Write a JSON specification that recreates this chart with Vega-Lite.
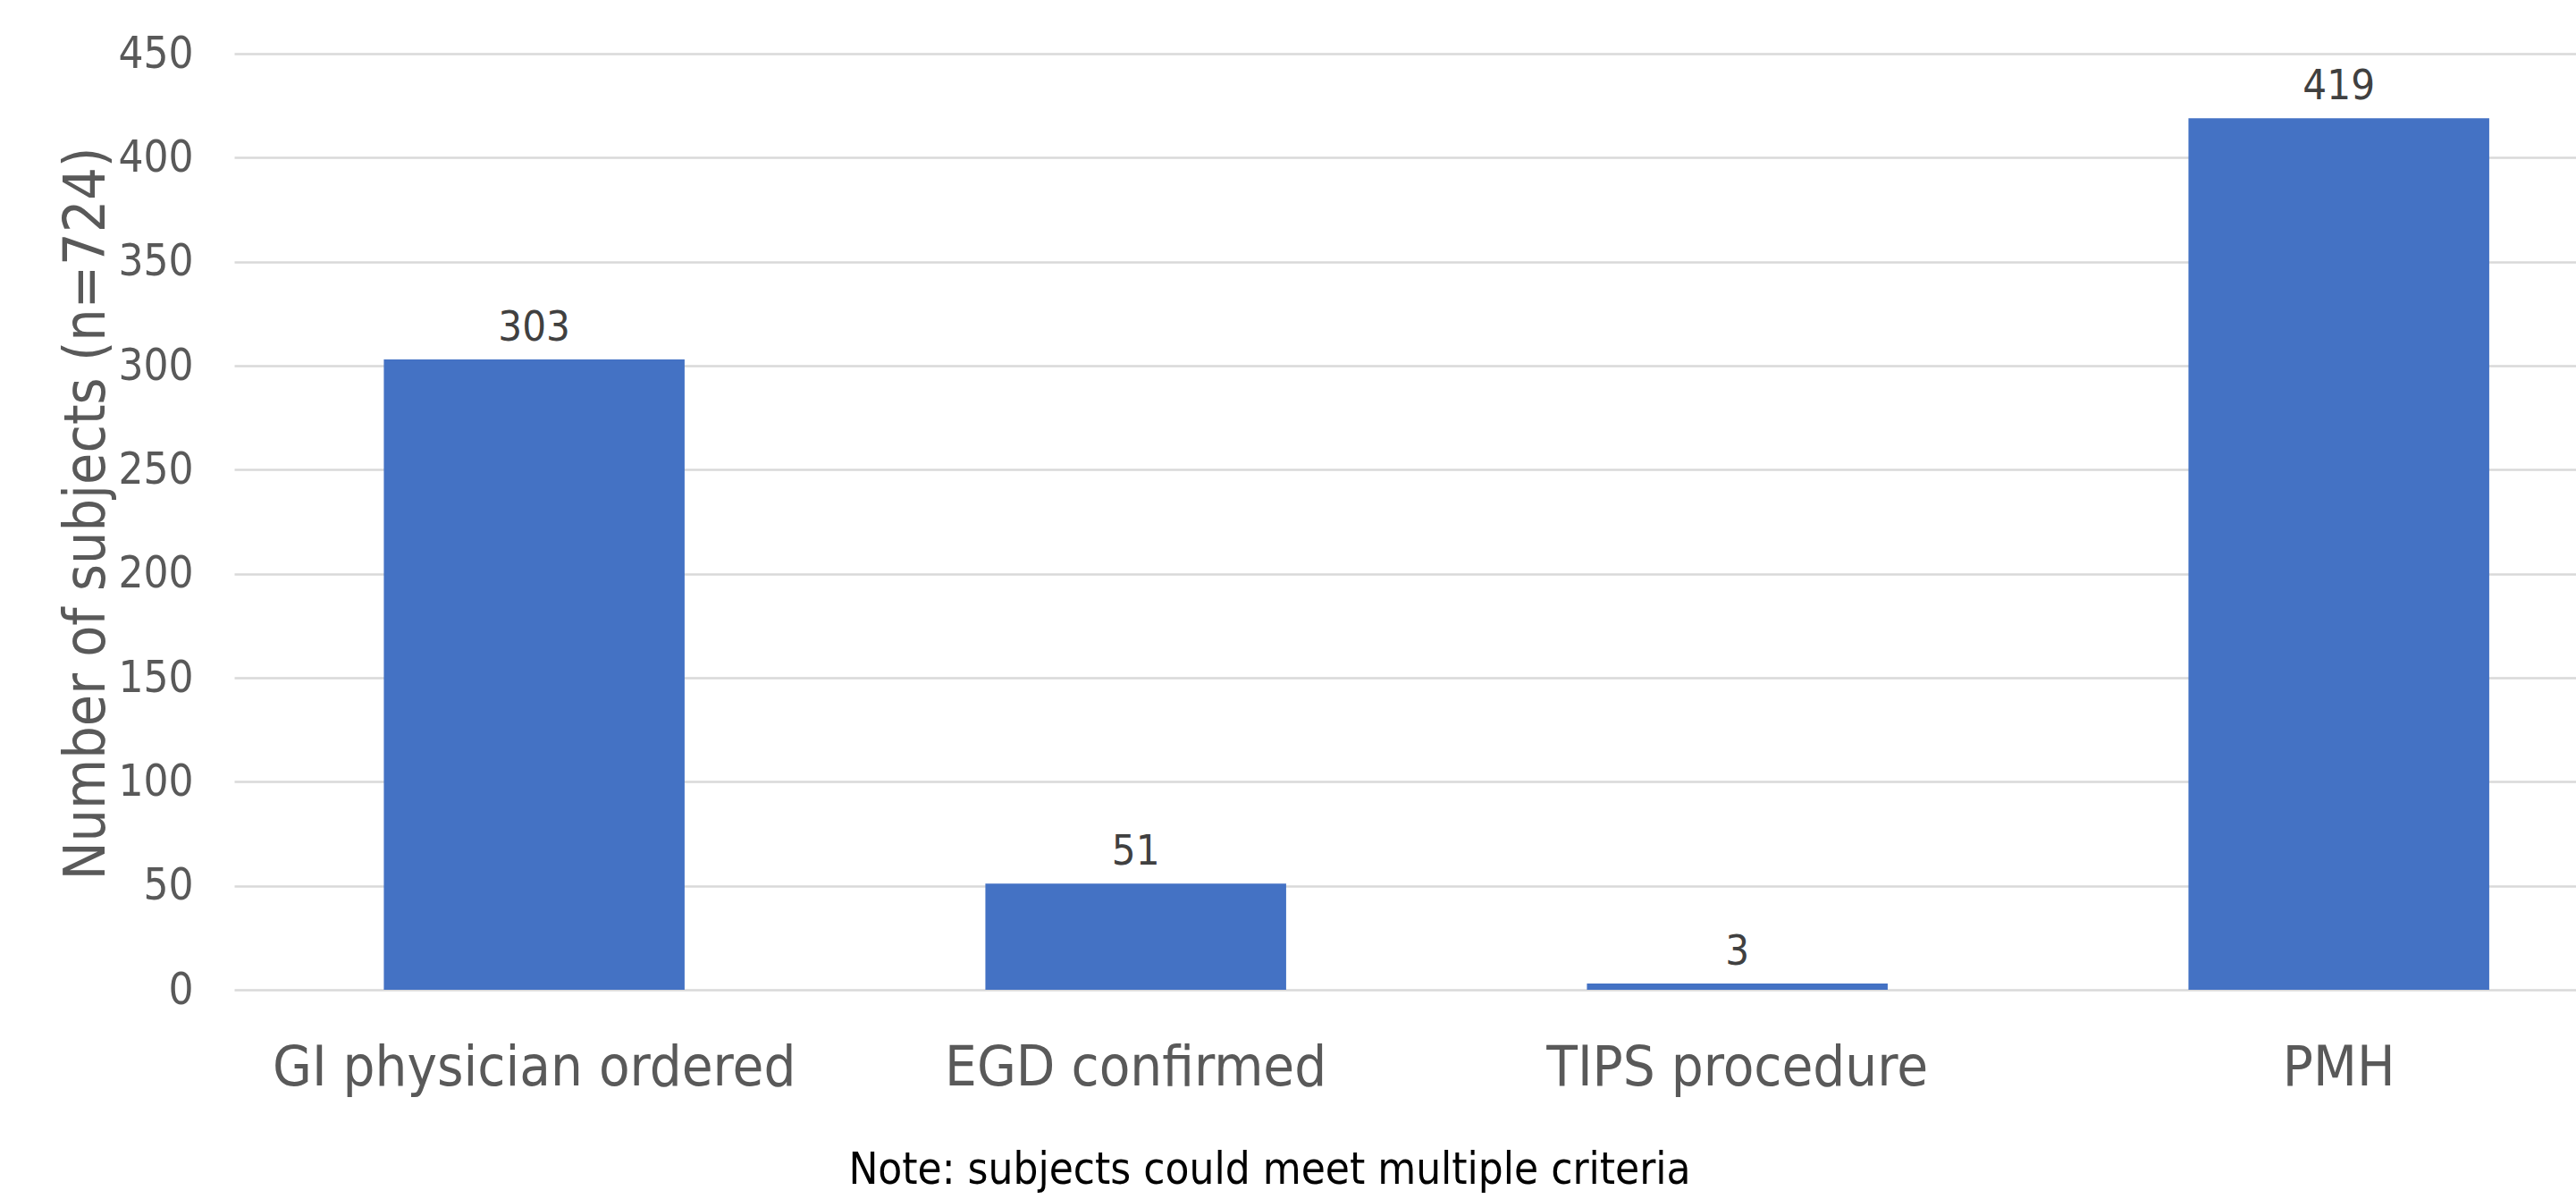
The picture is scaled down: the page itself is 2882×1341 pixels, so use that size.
{
  "$schema": "https://vega.github.io/schema/vega-lite/v6.json",
  "autosize": {"type": "none"},
  "padding": {"left": 262, "top": 60, "right": 0, "bottom": 234},
  "width": 2620,
  "height": 1047,
  "background": "white",
  "data": {
    "values": [
      {"criterion": "GI physician ordered", "subjects": 303},
      {"criterion": "EGD confirmed", "subjects": 51},
      {"criterion": "TIPS procedure", "subjects": 3},
      {"criterion": "PMH", "subjects": 419}
    ]
  },
  "encoding": {
    "x": {
      "field": "criterion",
      "type": "nominal",
      "sort": null,
      "scale": {"paddingInner": 0.5, "paddingOuter": 0.1965, "align": 0.633},
      "axis": {
        "title": "Note: subjects could meet multiple criteria",
        "titleX": 1158,
        "titleY": 216,
        "titleAnchor": null,
        "titleAlign": "center",
        "titleBaseline": "alphabetic",
        "titleFont": "DejaVu Sans Condensed",
        "titleFontSize": 49,
        "titleFontWeight": "normal",
        "titleColor": "#000000",
        "labelAngle": 0,
        "labelFont": "DejaVu Sans Condensed",
        "labelFontSize": 63,
        "labelColor": "#595959",
        "labelPadding": 56,
        "labelBaseline": "top",
        "labelLimit": 0,
        "labelOverlap": false,
        "ticks": false,
        "domain": false,
        "grid": false
      }
    },
    "y": {
      "field": "subjects",
      "type": "quantitative",
      "scale": {"domain": [0, 450], "nice": false},
      "axis": {
        "title": "Number of subjects (n=724)",
        "titleX": -165,
        "titleY": 514,
        "titleAngle": 270,
        "titleAlign": "center",
        "titleBaseline": "middle",
        "titleFont": "DejaVu Sans Condensed",
        "titleFontSize": 64,
        "titleFontWeight": "normal",
        "titleColor": "#595959",
        "values": [0, 50, 100, 150, 200, 250, 300, 350, 400, 450],
        "labelFont": "DejaVu Sans Condensed",
        "labelFontSize": 49,
        "labelColor": "#595959",
        "labelPadding": 46,
        "ticks": false,
        "domain": false,
        "grid": true,
        "gridColor": "#d9d9d9",
        "gridWidth": 2.5
      }
    }
  },
  "layer": [
    {"mark": {"type": "bar", "color": "#4472C4"}},
    {
      "mark": {
        "type": "text",
        "baseline": "alphabetic",
        "dy": -21,
        "font": "DejaVu Sans Condensed",
        "fontSize": 47,
        "color": "#404040"
      },
      "encoding": {"text": {"field": "subjects", "type": "quantitative"}}
    }
  ],
  "config": {"view": {"stroke": null}}
}
